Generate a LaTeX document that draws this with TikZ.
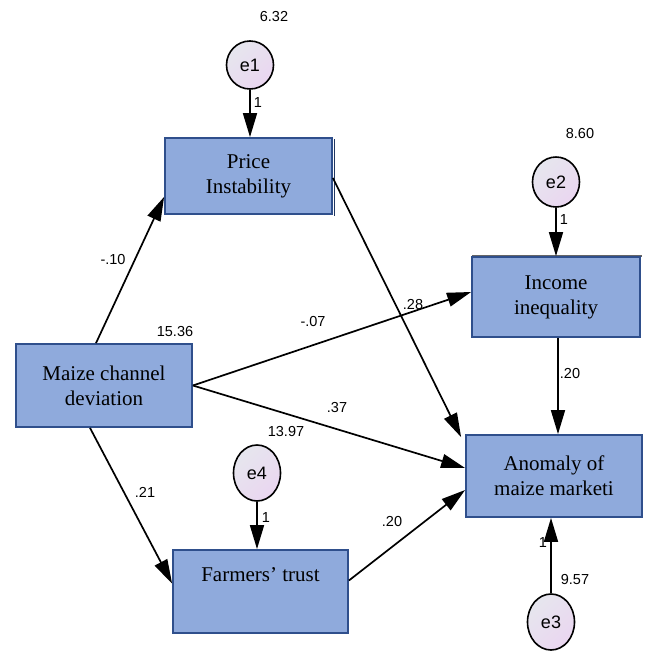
\documentclass[tikz,border=0pt]{standalone}
\usepackage{fontspec}
\setmainfont{Liberation Serif}
\newfontfamily\numfont{Liberation Sans}
\usetikzlibrary{shapes.geometric,arrows.meta,calc}
\definecolor{boxfill}{HTML}{8FAADC}
\definecolor{boxline}{HTML}{2F4F8C}
\definecolor{ellA}{HTML}{E6E6EE}
\definecolor{ellB}{HTML}{EAD6F0}
\tikzset{
  varbox/.style={draw=boxline, line width=1.8pt, fill=boxfill, rectangle, inner sep=0pt,
    align=center, font=\fontsize{21}{25}\selectfont},
  errnode/.style={draw=black, line width=1.6pt, ellipse, inner sep=0pt,
    left color=ellA, right color=ellB, shading angle=45,
    minimum width=47pt, minimum height=52pt, font=\numfont\fontsize{18}{20}\selectfont},
  numlab/.style={inner sep=0pt, font=\numfont\fontsize{14.5}{16}\selectfont},
  path/.style={draw=black, line width=1.7pt, -{Triangle[length=24pt,width=14pt]}}
}
\begin{document}
\begin{tikzpicture}[x=1pt,y=-1pt]
\useasboundingbox (0,0) rectangle (651,651);
% boxes
\draw[boxline!70!black, line width=1.4pt] (334.5,139) -- (334.5,216);
\node[varbox, minimum width=167pt, minimum height=76pt] (price) at (248.5,176) {Price\\Instability};
\draw[gray!80!black, line width=1.2pt] (472,256) -- (642,256);
\node[varbox, minimum width=168pt, minimum height=80pt] (income) at (556,297) {Income\\inequality};
\node[varbox, minimum width=176pt, minimum height=83pt] (maize) at (104,385.5) {Maize channel\\deviation};
\node[varbox, minimum width=176pt, minimum height=82pt] (anomaly) at (554,476) {Anomaly of\\maize marketi};
\node[varbox, minimum width=175pt, minimum height=83pt] (farmers) at (260.5,591.5) {Farmers’ trust\\[2pt]\strut};
% error terms
\node[errnode, minimum height=48pt] (e1) at (250,65) {e1};
\node[errnode, minimum height=50pt] (e2) at (556,182) {e2};
\node[errnode, minimum height=56pt] (e4) at (257,473) {e4};
\node[errnode, minimum height=56pt] (e3) at (551,622) {e3};
% paths
\draw[path] (e1.south) -- (e1.south |- price.north);
\draw[path] (e2.south) -- (e2.south |- income.north);
\draw[path] (e4.south) -- (e4.south |- farmers.north);
\draw[path] (e3.north) -- (e3.north |- anomaly.south);
\draw[path] ([xshift=-8pt]maize.north) -- ([yshift=18pt]price.south west);
\draw[path] (maize.east) -- ([yshift=5pt]income.west);
\draw[path] (maize.east) -- ([yshift=8pt]anomaly.west);
\draw[path] ([xshift=-14pt]maize.south) -- ([yshift=8pt]farmers.west);
\draw[path] ([yshift=-2pt]price.east) -- ([xshift=-4pt,yshift=-3pt]anomaly.north west);
\draw[path] ([xshift=2pt]income.south) -- ([xshift=4pt]anomaly.north);
\draw[path] ([yshift=11pt]farmers.east) -- ([yshift=-14pt]anomaly.west);
% numbers
\node[numlab] (v1) at (274,17) {6.32};
\node[numlab] (v2) at (580,134) {8.60};
\node[numlab] (v3) at (175,332) {15.36};
\node[numlab] (v4) at (286,432) {13.97};
\node[numlab] (v5) at (575,580) {9.57};
\node[numlab] (w1) at (258,103) {1};
\node[numlab] (w2) at (564,220) {1};
\node[numlab] (w4) at (266,518) {1};
\node[numlab] (w3) at (543,543) {1};
\node[numlab] (c1) at (113,260) {-.10};
\node[numlab] (c2) at (313,322) {-.07};
\node[numlab] (c3) at (413,305) {.28};
\node[numlab] (c4) at (337,408) {.37};
\node[numlab] (c5) at (145,492) {.21};
\node[numlab] (c6) at (570,374) {.20};
\node[numlab] (c7) at (392,522) {.20};
\end{tikzpicture}
\end{document}
